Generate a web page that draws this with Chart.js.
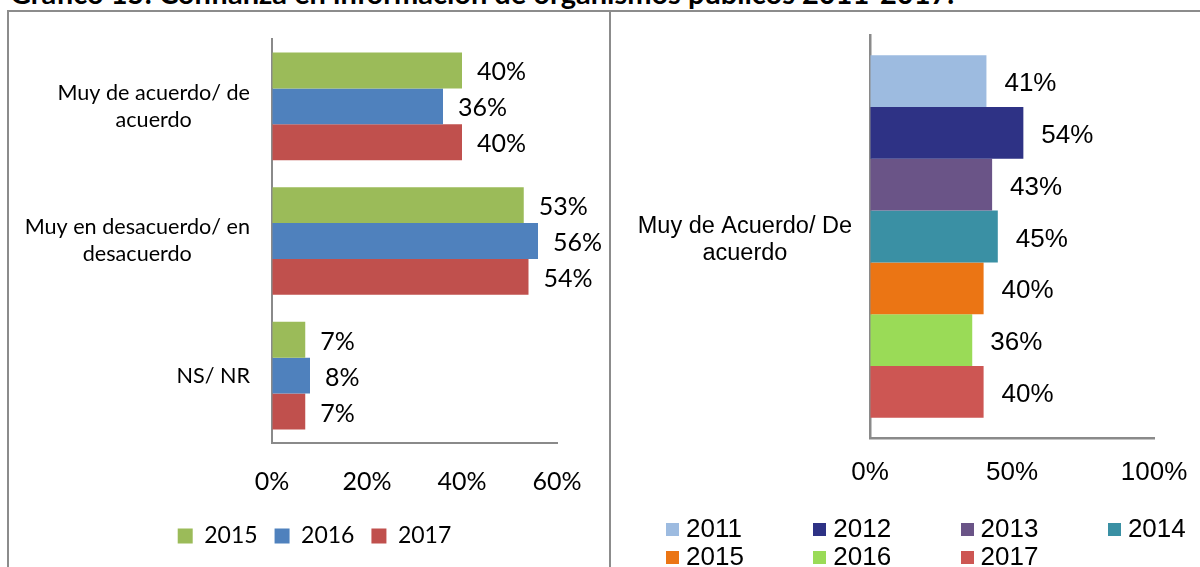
<!DOCTYPE html>
<html>
<head>
<meta charset="utf-8">
<script src="https://cdn.jsdelivr.net/npm/chart.js@4"></script>
<style>
  html, body { margin: 0; padding: 0; background: #fff; }
  body { width: 1200px; height: 567px; position: relative; overflow: hidden; }
  #title { position: absolute; left: 10px; top: -18px; font: bold 29px Lato, sans-serif; line-height: 22px; white-space: nowrap; color: #000; }
  .rule { position: absolute; background: #8c8c8c; }
  #leftChart { position: absolute; left: 9px; top: 12px; }
  #rightChart { position: absolute; left: 611px; top: 12px; }
  .lg { position: absolute; font: 26px "Liberation Sans", Arial, sans-serif; color: #000; white-space: nowrap; line-height: 28px; }
  .lg i { display: inline-block; width: 13px; height: 13px; margin-right: 7px; vertical-align: 1px; }
</style>
</head>
<body>
<div id="title">Gráfico 15: Confianza en información de organismos públicos 2011-2017.</div>
<div class="rule" style="left:7px;top:10px;width:1193px;height:2px"></div>
<div class="rule" style="left:7px;top:10px;width:2px;height:557px"></div>
<div class="rule" style="left:609px;top:10px;width:2px;height:557px"></div>
<canvas id="leftChart" width="600" height="555"></canvas>
<canvas id="rightChart" width="589" height="555"></canvas>
<div id="rightLegend"></div>
<script>
// gráfico izquierdo: 2015-2017
const leftCategories = [['Muy de acuerdo/ de', 'acuerdo'], ['Muy en desacuerdo/ en', 'desacuerdo'], ['NS/ NR']];
const leftYears = ['2015', '2016', '2017'];
const values2015 = [40, 53, 7];
const values2016 = [36, 56, 8];
const values2017 = [40, 54, 7];
const leftTicks = [0, 20, 40, 60];
const leftColors = ['#9BBB59', '#4F81BD', '#C0504D'];

// gráfico derecho: 2011-2017
const rightCategories = [['Muy de Acuerdo/ De', 'acuerdo']];
const rightYears = ['2011', '2012', '2013', '2014', '2015', '2016', '2017'];
const rightValues = [41, 54, 43, 45, 40, 36, 40];
const rightTicks = [0, 50, 100];
const rightColors = ['#9DBBE0', '#2E3285', '#6A5487', '#3A90A4', '#EB7514', '#9ADB57', '#CD5653'];

const leftSeries = [values2015, values2016, values2017];
const axisGray = '#8a8a8a';

// etiquetas de categoría: bloque alineado a la derecha, líneas centradas
const catLabels = {
  id: 'catLabels',
  afterDraw(chart, args, opts) {
    const { ctx, chartArea } = chart;
    const yScale = chart.scales.y;
    ctx.save();
    ctx.font = opts.font;
    ctx.fillStyle = '#000';
    ctx.textAlign = 'center';
    ctx.textBaseline = 'middle';
    chart.data.labels.forEach((lab, i) => {
      const lines = Array.isArray(lab) ? lab : [lab];
      const w = Math.max(...lines.map(l => ctx.measureText(l).width));
      const cx = chartArea.left - opts.gap - w / 2;
      const cy = yScale.getPixelForTick(i) + (opts.shift || 0);
      lines.forEach((l, k) => {
        ctx.fillText(l, cx, cy + (k - (lines.length - 1) / 2) * opts.lineHeight);
      });
    });
    ctx.restore();
  }
};

// valores al final de cada barra
const valueLabels = {
  id: 'valueLabels',
  afterDatasetsDraw(chart, args, opts) {
    const { ctx } = chart;
    ctx.save();
    ctx.font = opts.font;
    ctx.fillStyle = '#000';
    ctx.textAlign = 'left';
    ctx.textBaseline = 'middle';
    chart.data.datasets.forEach((ds, di) => {
      chart.getDatasetMeta(di).data.forEach((el, i) => {
        ctx.fillText(ds.data[i] + '%', el.x + opts.offset, el.y + (opts.shift || 0));
      });
    });
    ctx.restore();
  }
};

// marcas de eje invisibles, sólo para separar las etiquetas del eje
const hiddenTicks = len => ({ display: true, color: 'transparent', drawOnChartArea: false, tickLength: len });

new Chart(document.getElementById('leftChart'), {
  type: 'bar',
  data: {
    labels: leftCategories,
    datasets: leftYears.map((yr, i) => ({
      label: yr,
      data: leftSeries[i],
      backgroundColor: leftColors[i],
      categoryPercentage: 0.8,
      barPercentage: 1
    }))
  },
  plugins: [catLabels, valueLabels],
  options: {
    indexAxis: 'y',
    responsive: false,
    animation: false,
    layout: { padding: { left: 63, right: 52, top: 27, bottom: 9.5 } },
    scales: {
      x: {
        min: leftTicks[0],
        max: leftTicks[leftTicks.length - 1],
        afterBuildTicks: s => { s.ticks = leftTicks.map(v => ({ value: v })); },
        ticks: { callback: v => v + '%', padding: 2, color: '#000', font: { family: 'Lato', size: 25 } },
        grid: hiddenTicks(22),
        border: { display: true, color: axisGray, width: 2 },
        afterFit: s => { s.height = 64.5; }
      },
      y: {
        ticks: { display: false },
        grid: { display: false },
        border: { display: true, color: axisGray, width: 2 },
        afterFit: s => { s.width = 200; }
      }
    },
    plugins: {
      legend: {
        position: 'bottom',
        labels: { boxWidth: 15, boxHeight: 15, padding: 17, color: '#000', font: { family: 'Lato', size: 23 } }
      },
      tooltip: { enabled: false },
      catLabels: { font: '21.6px Lato', gap: 22, lineHeight: 27 },
      valueLabels: { font: '25px Lato', offset: 15, shift: 2 }
    }
  }
});

new Chart(document.getElementById('rightChart'), {
  type: 'bar',
  data: {
    labels: rightCategories,
    datasets: rightYears.map((yr, i) => ({
      label: yr,
      data: [rightValues[i]],
      backgroundColor: rightColors[i],
      categoryPercentage: 0.9,
      barPercentage: 1
    }))
  },
  plugins: [catLabels, valueLabels],
  options: {
    indexAxis: 'y',
    responsive: false,
    animation: false,
    layout: { padding: { left: 20, right: 46, top: 23, bottom: 69 } },
    scales: {
      x: {
        min: rightTicks[0],
        max: rightTicks[rightTicks.length - 1],
        afterBuildTicks: s => { s.ticks = rightTicks.map(v => ({ value: v })); },
        ticks: { callback: v => v + '%', padding: 2, color: '#000', font: { family: 'Liberation Sans', size: 26 } },
        grid: hiddenTicks(17),
        border: { display: true, color: axisGray, width: 2.5 },
        afterFit: s => { s.height = 60; }
      },
      y: {
        ticks: { display: false },
        grid: { display: false },
        border: { display: true, color: axisGray, width: 2.5 },
        afterFit: s => { s.width = 239; }
      }
    },
    plugins: {
      legend: { display: false },
      tooltip: { enabled: false },
      catLabels: { font: '23.5px "Liberation Sans"', gap: 18, lineHeight: 27, shift: 4 },
      valueLabels: { font: '26px "Liberation Sans"', offset: 18, shift: 3 }
    }
  }
});

// leyenda derecha en cuadrícula de 4 columnas
const rightLegend = document.getElementById('rightLegend');
rightYears.forEach((yr, i) => {
  const item = document.createElement('div');
  item.className = 'lg';
  item.style.left = (666 + (i % 4) * 147.3) + 'px';
  item.style.top = (514 + Math.floor(i / 4) * 28) + 'px';
  item.innerHTML = '<i style="background:' + rightColors[i] + '"></i>' + yr;
  rightLegend.appendChild(item);
});
</script>
</body>
</html>
